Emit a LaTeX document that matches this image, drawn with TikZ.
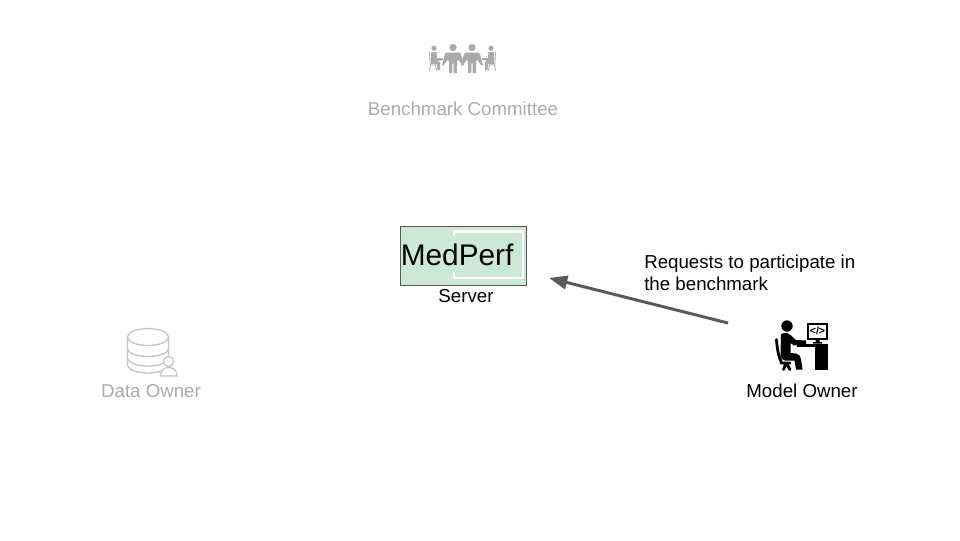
\documentclass[tikz,border=0pt]{standalone}
\usepackage{fontspec}
\setmainfont{Liberation Sans}
\definecolor{fadegray}{HTML}{ABABAB}
\definecolor{icongray}{HTML}{ABABAB}
\definecolor{dbgray}{HTML}{C4C4C4}
\definecolor{arrowgray}{HTML}{595959}
\definecolor{servergreen}{HTML}{CBE9D4}
\usetikzlibrary{arrows.meta}

\begin{document}
\begin{tikzpicture}[
x=0.025cm,
y=-0.025cm,
label/.style={
    font=\fontsize{13.3}{15.5}\selectfont,
    inner sep=0pt,
    anchor=base,
    },
faded/.style={
    label,
    text=fadegray,
    },
person/.style={
    fill=icongray,
    draw=none,
    },
seat/.style={
    draw=icongray,
    line width=0.6pt,
    },
db/.style={
    draw=dbgray,
    line width=0.9pt,
    fill=white,
    },
dev/.style={
    fill=black,
    draw=none,
    },
devline/.style={
    draw=black,
    line cap=round,
    line width=2pt,
    },
]
\useasboundingbox (0,0) rectangle (960,540);

% benchmark committee
\begin{scope}
    \foreach \px in {453,472}{
        \fill[person] (\px,47.5) circle (3.6);
        \fill[person] (\px-6,52.5) -- (\px+6,52.5)
            .. controls (\px+7.5,52.5) and (\px+8,54) .. (\px+8.5,56)
            -- (\px+11,65) -- (\px+9.5,65.5) -- (\px+5,59.5)
            -- (\px+4,62) -- (\px+4,73) -- (\px+0.8,73) -- (\px+0.5,63.5)
            -- (\px-0.5,63.5) -- (\px-0.8,73) -- (\px-4,73) -- (\px-4,62)
            -- (\px-5,59.5) -- (\px-9.5,65.5) -- (\px-11,65) -- (\px-8.5,56)
            .. controls (\px-8,54) and (\px-7.5,52.5) .. (\px-6,52.5) -- cycle;
    }
    \foreach \px/\d in {434/1,491/-1}{
        \fill[person] (\px,48.2) circle (2.6);
        \fill[person] (\px-3*\d,52) -- (\px+2.5*\d,52) -- (\px+3*\d,58)
            -- (\px+9*\d,58) -- (\px+9*\d,60) -- (\px+3*\d,61) -- (\px+6*\d,62)
            -- (\px+6*\d,70) -- (\px+3.5*\d,70) -- (\px+3*\d,64.5) -- (\px-3*\d,64) -- cycle;
        \draw[seat] (\px-4.5*\d,52) -- (\px-3.8*\d,65) -- (\px+2*\d,65)
            (\px-3.6*\d,65) -- (\px-4.5*\d,70.5) (\px+1.5*\d,65) -- (\px+2.5*\d,70.5);
    }
    \node[faded] (committee) at (463,115) {Benchmark Committee};
\end{scope}

% server
\node[draw=arrowgray, line width=0.5pt, fill=servergreen, minimum width=126*0.025cm,
    minimum height=59*0.025cm, inner sep=0pt] (logo) at (463,255.5) {};
\draw[white, line width=1.5pt] (454,235.5) -- (454,231.5) -- (523,231.5) -- (523,278) -- (454,278) -- (454,272);
\node[inner sep=0pt, anchor=base west, font=\fontsize{21.2}{24}\selectfont] (medperf) at (400.5,265) {MedPerf};
\node[label] (server) at (466,302) {Server};

% data owner
\begin{scope}
    \draw[db] (127.5,337) -- (127.5,365) arc[start angle=180, end angle=360, x radius=20.5, y radius=-8] -- (168.5,337);
    \draw[db] (127.5,348.5) arc[start angle=180, end angle=360, x radius=20.5, y radius=-8];
    \draw[db] (127.5,358) arc[start angle=180, end angle=360, x radius=20.5, y radius=-8];
    \draw[db] (148,337) ellipse (20.5 and 8.5);
    \draw[db] (160.5,376) .. controls (160.5,370) and (164,367.5) .. (168.5,367.5)
        .. controls (173,367.5) and (177,370) .. (177,376) -- cycle;
    \draw[db] (168.5,361.5) circle (5);
    \node[faded] (dataowner) at (151,397) {Data Owner};
\end{scope}

% model owner
\begin{scope}
    \fill[dev] (787,326) circle (5.7);
    \fill[dev] (781,334) .. controls (786,332) and (789,333) .. (791,335.5)
        -- (796,340) -- (806,340.5) -- (806,345) -- (794,345.5) -- (790.5,343)
        -- (790.5,353) -- (796,353.5) .. controls (799,354) and (800.5,356) .. (801,359)
        -- (802.5,369.5) -- (796,369.5) -- (794.5,360.5) -- (785,360.5)
        .. controls (782,360.5) and (780.5,358) .. (780.5,355) -- cycle;
    \draw[devline] (776.5,339.5) .. controls (777,348) and (778.5,356) .. (781.5,363)
        -- (790,363) (786,363) -- (783.5,369.5) (786,363) -- (790,369.5);
    \fill[dev] (797,343.5) rectangle (828,346.5);
    \fill[dev] (815,346.5) rectangle (828,369.5);
    \fill[dev] (807,323) rectangle (828,339.5);
    \fill[white] (809,325) rectangle (826,337.5);
    \fill[dev] (815.5,339.5) rectangle (819.5,342) (813,342) rectangle (822,343.5);
    \node[font=\fontsize{7.5}{8}\selectfont\bfseries, inner sep=0pt] (code) at (817.5,331) {</>};
    \node[label] (modelowner) at (802,397) {Model Owner};
\end{scope}

% request
\node[label, anchor=base west] (request) at (644,268) {Requests to participate in};
\node[label, anchor=base west] (request2) at (644,290) {the benchmark};
\coordinate (from) at (728,323);
\coordinate (to) at (549,278);
\draw[arrowgray, line width=2.1pt, -{Stealth[length=13pt, width=9.5pt, inset=0pt]}] (from) -- (to);
\end{tikzpicture}
\end{document}
